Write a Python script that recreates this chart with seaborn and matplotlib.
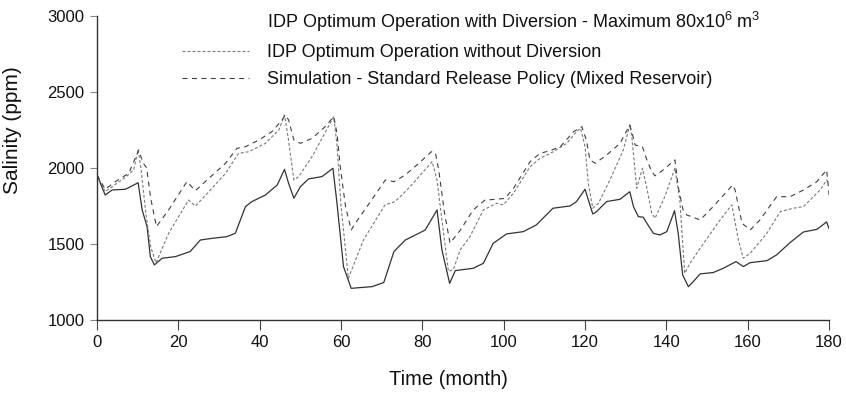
import pandas as pd
import seaborn as sns
import matplotlib.pyplot as plt
from matplotlib.lines import Line2D

# Salinity, (month, ppm) at the visible vertices.
month_div = [0, 2.0, 3.7, 7.0, 10.1, 11.1, 12.3, 13.1, 14.1, 16.0, 19.3, 22.9, 25.4, 28.3, 31.9,
             34.0, 36.5, 38.1, 41.4, 44.3, 46.1, 47.1, 48.4, 50.0, 52.0, 55.3, 58.0, 59.0, 60.6,
             62.5, 64.3, 67.6, 70.5, 73.0, 75.8, 78.3, 80.7, 83.6, 84.8, 86.7, 88.1, 89.3, 92.5,
             95.0, 97.4, 100.7, 104.8, 108.0, 112.1, 116.3, 117.9, 120.0, 120.8, 121.9, 122.8,
             125.3, 128.6, 131.0, 131.9, 133.1, 134.3, 135.2, 136.8, 138.4, 140.1, 142.0, 142.9,
             144.0, 145.4, 146.6, 148.3, 151.5, 154.0, 157.1, 158.9, 160.6, 164.7, 167.1, 170.4,
             173.7, 177.0, 179.4, 180.0]
salinity_div = [1954, 1822, 1855, 1860, 1903, 1724, 1614, 1417, 1362, 1406, 1417, 1450, 1526, 1537,
                1548, 1570, 1746, 1779, 1822, 1888, 1991, 1899, 1801, 1877, 1928, 1943, 1998, 1768,
                1351, 1208, 1212, 1219, 1246, 1450, 1526, 1559, 1592, 1724, 1461, 1241, 1325, 1329,
                1340, 1373, 1504, 1566, 1581, 1625, 1735, 1750, 1779, 1860, 1790, 1697, 1712, 1779,
                1794, 1844, 1746, 1680, 1676, 1636, 1570, 1559, 1581, 1719, 1570, 1296, 1219, 1252,
                1303, 1312, 1340, 1384, 1351, 1377, 1390, 1428, 1509, 1579, 1596, 1645, 1600]

month_nodiv = [0, 2.0, 3.7, 7.0, 9.0, 10.1, 10.8, 12.0, 13.2, 14.5, 17.6, 22.5, 24.2, 27.5, 31.6,
               34.8, 37.3, 41.4, 44.7, 46.1, 47.0, 48.4, 49.6, 53.0, 58.2, 59.0, 60.0, 61.8, 65.5,
               70.8, 73.3, 77.0, 82.4, 83.6, 84.8, 86.4, 87.6, 89.3, 91.7, 95.0, 98.3, 99.9, 102.4,
               106.5, 108.9, 112.2, 115.5, 117.9, 118.9, 120.0, 120.8, 121.9, 123.3, 126.1, 129.4,
               131.0, 131.5, 132.7, 134.1, 135.2, 136.4, 137.2, 139.6, 142.1, 143.3, 144.5, 145.8,
               148.3, 153.2, 156.1, 157.7, 158.9, 160.6, 164.7, 168.0, 171.2, 173.7, 177.8, 179.4,
               180.0]
salinity_nodiv = [1954, 1844, 1877, 1939, 1987, 2118, 2000, 1700, 1480, 1375, 1570, 1789, 1750,
                  1844, 1965, 2096, 2107, 2162, 2250, 2349, 2200, 1921, 1943, 2080, 2338, 2150,
                  1750, 1274, 1526, 1757, 1779, 1877, 2042, 1921, 1658, 1320, 1330, 1461, 1548,
                  1724, 1768, 1757, 1834, 2009, 2063, 2107, 2162, 2239, 2261, 2140, 1899, 1735,
                  1768, 1921, 2118, 2283, 2206, 1866, 1998, 1866, 1702, 1669, 1811, 1998, 1789,
                  1307, 1373, 1472, 1658, 1757, 1526, 1406, 1439, 1570, 1713, 1735, 1746, 1855,
                  1921, 1899]

month_sim = [0, 2.0, 4.5, 7.8, 9.9, 10.2, 11.4, 12.2, 13.2, 14.6, 17.6, 22.1, 24.2, 27.5, 31.6,
             34.4, 36.5, 39.8, 43.0, 45.5, 46.3, 47.1, 48.4, 50.0, 52.9, 56.1, 58.2, 59.0, 59.8,
             61.1, 62.5, 63.5, 67.0, 70.9, 73.0, 75.8, 79.1, 82.2, 83.2, 84.0, 85.4, 86.8, 89.3,
             92.5, 95.4, 98.3, 100.3, 102.4, 106.5, 108.9, 111.4, 113.9, 117.2, 119.2, 120.3, 121.2,
             122.5, 125.3, 128.6, 131.0, 131.7, 132.3, 134.1, 135.2, 136.4, 137.2, 139.2, 142.1,
             142.9, 144.1, 145.0, 148.3, 151.5, 156.3, 156.9, 158.6, 160.6, 163.0, 167.1, 170.4,
             173.7, 177.0, 179.4, 180.0]
salinity_sim = [1954, 1860, 1910, 1965, 2096, 2119, 2030, 2000, 1800, 1614, 1724, 1910, 1851, 1932,
                2031, 2129, 2140, 2184, 2239, 2316, 2349, 2316, 2184, 2162, 2195, 2272, 2338, 2228,
                2009, 1746, 1592, 1636, 1770, 1921, 1910, 1954, 2030, 2107, 2100, 1990, 1710, 1505,
                1590, 1724, 1789, 1794, 1800, 1866, 2042, 2096, 2114, 2140, 2239, 2272, 2184, 2053,
                2031, 2085, 2162, 2283, 2217, 2151, 2140, 2053, 1976, 1948, 1987, 2053, 1877, 1724,
                1691, 1658, 1746, 1888, 1855, 1636, 1592, 1658, 1811, 1811, 1855, 1910, 1987, 1822]

labels = [r"IDP Optimum Operation with Diversion - Maximum 80x10$^6$ m$^3$",
          "IDP Optimum Operation without Diversion",
          "Simulation - Standard Release Policy (Mixed Reservoir)"]
x_ticks = [0, 20, 40, 60, 80, 100, 120, 140, 160, 180]
y_ticks = [1000, 1500, 2000, 2500, 3000]

sns.set_theme(style="ticks")
plt.rcParams["font.family"] = ["Liberation Sans", "DejaVu Sans"]
plt.rcParams["mathtext.fontset"] = "custom"
plt.rcParams["mathtext.rm"] = "Liberation Sans"
plt.rcParams["mathtext.it"] = "Liberation Sans"

fig = plt.figure(figsize=(8.46, 3.95), dpi=100)
ax = fig.add_axes([0.1147, 0.19, 0.8653, 0.7695])

df_div = pd.DataFrame({"month": month_div, "salinity": salinity_div})
df_nodiv = pd.DataFrame({"month": month_nodiv, "salinity": salinity_nodiv})
df_sim = pd.DataFrame({"month": month_sim, "salinity": salinity_sim})

sns.lineplot(data=df_div, x="month", y="salinity", ax=ax, color="#333333", lw=0.9,
             estimator=None, sort=False)
sns.lineplot(data=df_nodiv, x="month", y="salinity", ax=ax, color="#7a7a7a", lw=0.8,
             estimator=None, sort=False, linestyle=(0, (2.7, 1.8)))
sns.lineplot(data=df_sim, x="month", y="salinity", ax=ax, color="#404040", lw=0.8,
             estimator=None, sort=False, linestyle=(0, (4.5, 4.0)))

ax.set_xlim(0, 180)
ax.set_ylim(1000, 3000)
ax.set_xticks(x_ticks)
ax.set_yticks(y_ticks)
ax.tick_params(axis="x", length=7, width=0.8, color="#444444", labelsize=12, pad=4,
               labelcolor="#111111")
ax.tick_params(axis="y", length=5, width=0.8, color="#888888", labelsize=12, pad=4,
               labelcolor="#111111")
for s in ["left", "bottom"]:
    ax.spines[s].set_color("#333333")
    ax.spines[s].set_linewidth(1.0)
sns.despine(ax=ax)

ax.set_xlabel("Time (month)", fontsize=14.5, color="#111111")
ax.set_ylabel("Salinity (ppm)", fontsize=15, color="#111111")
ax.xaxis.set_label_coords(0.48, -0.165)
ax.yaxis.set_label_coords(-0.102, 0.625)

# the first legend entry shows no line sample in the reference
handles = [Line2D([], [], color="none"),
           Line2D([], [], color="#7a7a7a", lw=0.8, linestyle=(0, (2.7, 1.8))),
           Line2D([], [], color="#404040", lw=0.8, linestyle=(0, (4.5, 4.0)))]
ax.legend(handles, labels, loc="upper left", bbox_to_anchor=(0.116, 1.02), frameon=False,
          fontsize=13, handlelength=3.7, handletextpad=1.0, labelspacing=0.55,
          borderpad=0, borderaxespad=0, labelcolor="#111111")

plt.savefig("out.png", dpi=100)
